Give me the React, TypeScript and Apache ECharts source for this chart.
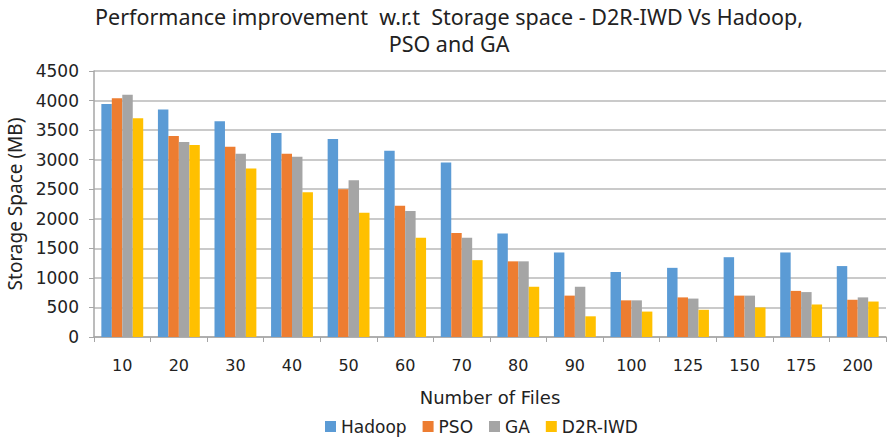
import React, { useEffect, useRef } from "react";
import * as echarts from "echarts";

const categories = ["10", "20", "30", "40", "50", "60", "70", "80", "90", "100", "125", "150", "175", "200"];
const hadoop = [3940, 3850, 3650, 3450, 3350, 3150, 2950, 1750, 1430, 1100, 1170, 1350, 1430, 1200];
const pso = [4040, 3400, 3220, 3100, 2500, 2220, 1760, 1280, 700, 620, 670, 700, 780, 630];
const ga = [4100, 3300, 3100, 3050, 2650, 2130, 1680, 1280, 850, 620, 650, 700, 760, 670];
const d2r = [3700, 3250, 2850, 2450, 2100, 1680, 1300, 850, 350, 430, 460, 500, 550, 600];
const seriesNames = ["Hadoop", "PSO", "GA", "D2R-IWD"];
const colors = ["#5B9BD5", "#ED7D31", "#A5A5A5", "#FFC000"];

export default function App() {
  const ref = useRef<HTMLDivElement>(null);
  useEffect(() => {
    if (!ref.current) return;
    const chart = echarts.init(ref.current, null, { renderer: "svg" });
    const data = [hadoop, pso, ga, d2r];
    chart.setOption({
      animation: false,
      backgroundColor: "#ffffff",
      title: {
        text: "Performance improvement  w.r.t  Storage space - D2R-IWD Vs Hadoop,\nPSO and GA",
        left: 444,
        top: -2,
        textAlign: "center",
        textStyle: {
          fontFamily: "Noto Sans",
          fontSize: 21.5,
          fontWeight: "normal",
          color: "#222",
          lineHeight: 27,
        },
      },
      legend: {
        data: seriesNames,
        bottom: -2,
        left: 320,
        itemWidth: 11,
        itemHeight: 11,
        itemGap: 16,
        icon: "rect",
        textStyle: { fontFamily: "DejaVu Sans", fontSize: 17, color: "#222" },
      },
      grid: { left: 94, right: 2, top: 71, bottom: 101, outerBoundsMode: "none", containLabel: false },
      xAxis: {
        type: "category",
        data: categories,
        name: "Number of Files",
        nameLocation: "middle",
        nameGap: 51,
        nameTextStyle: { fontFamily: "DejaVu Sans", fontSize: 18, color: "#222" },
        axisLine: { lineStyle: { color: "#a6a6a6", width: 1.5 } },
        axisTick: { show: true, length: 5, lineStyle: { color: "#a6a6a6" } },
        axisLabel: { fontFamily: "DejaVu Sans", fontSize: 16, color: "#222", margin: 20 },
      },
      yAxis: {
        type: "value",
        min: 0,
        max: 4500,
        interval: 500,
        name: "Storage Space (MB)",
        nameLocation: "middle",
        nameGap: 61,
        nameTextStyle: { fontFamily: "Noto Sans", fontSize: 19, color: "#222" },
        axisLine: { show: true, lineStyle: { color: "#a6a6a6", width: 1.5 } },
        axisTick: { show: true, length: 5, lineStyle: { color: "#a6a6a6" } },
        axisLabel: {
          fontFamily: "DejaVu Sans",
          fontSize: 17,
          color: "#222",
          margin: 15,
          formatter: (v: number) => String(v),
        },
        splitLine: { lineStyle: { color: "#b8b8b8", width: 1.5 } },
      },
      series: seriesNames.map((n, i) => ({
        name: n,
        type: "bar",
        data: data[i],
        itemStyle: { color: colors[i] },
        barGap: "0%",
        barCategoryGap: "26%",
      })),
    });
    return () => chart.dispose();
  }, []);
  return <div ref={ref} style={{ width: 888, height: 438, position: "absolute", left: 0, top: 0 }} />;
}
